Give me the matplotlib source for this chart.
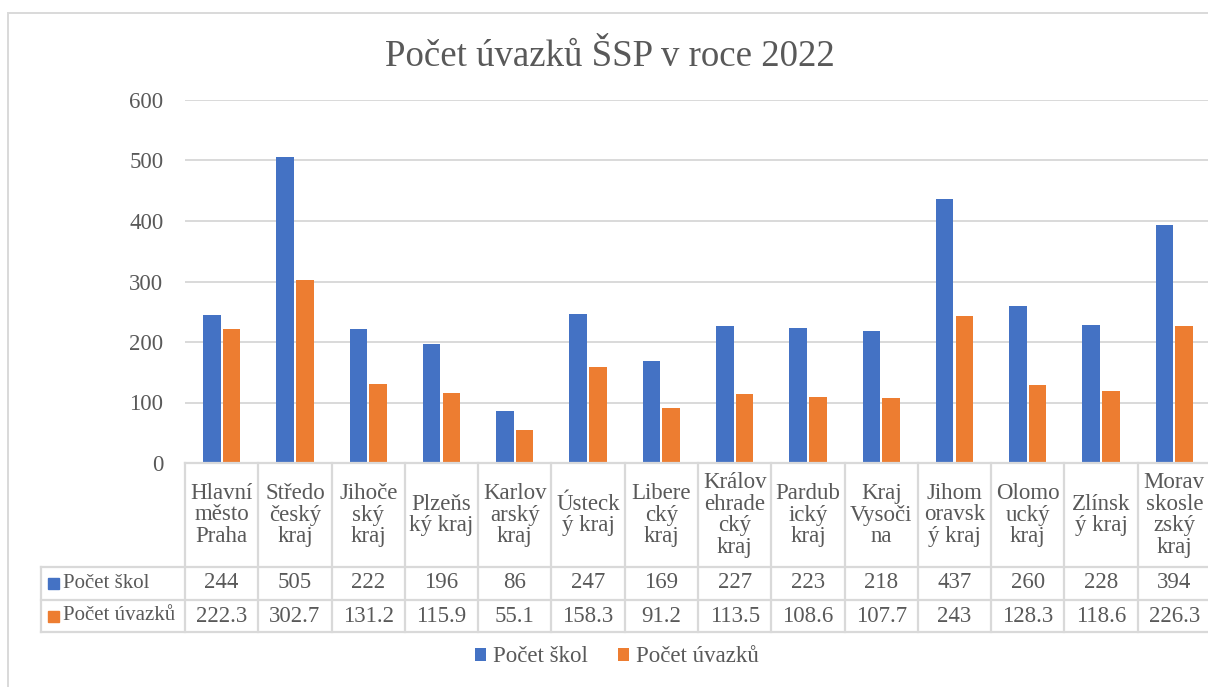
import matplotlib.pyplot as plt
import matplotlib.transforms as mtransforms
from matplotlib.lines import Line2D
from matplotlib.patches import Rectangle
import numpy as np

# Data
kraje = ["Hlavní\nměsto\nPraha", "Středo\nčeský\nkraj", "Jihoče\nský\nkraj", "Plzeňs\nký kraj",
         "Karlov\narský\nkraj", "Ústeck\ný kraj", "Libere\ncký\nkraj", "Králov\nehrade\ncký\nkraj",
         "Pardub\nický\nkraj", "Kraj\nVysoči\nna", "Jihom\noravsk\ný kraj", "Olomo\nucký\nkraj",
         "Zlínsk\ný kraj", "Morav\nskosle\nzský\nkraj"]
pocet_skol = [244, 505, 222, 196, 86, 247, 169, 227, 223, 218, 437, 260, 228, 394]
pocet_uvazku = [222.3, 302.7, 131.2, 115.9, 55.1, 158.3, 91.2, 113.5, 108.6, 107.7, 243, 128.3, 118.6, 226.3]
serie = ["Počet škol", "Počet úvazků"]
titulek = "Počet úvazků ŠSP v roce 2022"

modra = "#4472C4"
oranzova = "#ED7D31"
seda = "#595959"
mrizka = "#d9d9d9"

plt.rcParams["font.family"] = ["Liberation Serif", "DejaVu Serif"]
FS = 16.5

W, H = 1208, 687
fig = plt.figure(figsize=(W / 100, H / 100), dpi=100)


def fx(px):
    return px / W


def fy(py):
    return 1 - py / H


ax = fig.add_axes([fx(185), fy(463), fx(1211) - fx(185), fy(100) - fy(463)])
x = np.arange(len(kraje))
b1 = ax.bar(x - 0.135, pocet_skol, width=0.24, color=modra, label=serie[0], zorder=3)
b2 = ax.bar(x + 0.135, pocet_uvazku, width=0.24, color=oranzova, label=serie[1], zorder=3)

ax.set_xlim(-0.5, len(kraje) - 0.5)
ax.set_ylim(0, 600)
ax.set_yticks(np.arange(0, 601, 100))
ax.set_xticks([])
ax.yaxis.grid(True, color=mrizka, lw=1.4, zorder=0)
ax.set_axisbelow(True)
for s in ax.spines.values():
    s.set_visible(False)
ax.tick_params(axis="y", length=0, pad=15.5, labelsize=FS, labelcolor=seda)

# Tabulka s daty
bt = mtransforms.blended_transform_factory(ax.transData, fig.transFigure)
kw = dict(color=mrizka, lw=1.6, clip_on=False)
for k in range(len(kraje) + 1):
    fig.add_artist(Line2D([k - 0.5, k - 0.5], [fy(463), fy(632)], transform=bt, **kw))
fig.add_artist(Line2D([fx(41), fx(41)], [fy(567), fy(632)], transform=fig.transFigure, **kw))
fig.add_artist(Line2D([-0.5, len(kraje) - 0.5], [fy(463), fy(463)], transform=bt, **kw))
for py in [567, 600, 632]:
    fig.add_artist(Line2D([fx(41), fx(1211)], [fy(py), fy(py)], transform=fig.transFigure, **kw))

for i, lab in enumerate(kraje):
    fig.text(i, fy(515), lab, transform=bt, ha="center", va="center", multialignment="center",
             fontsize=FS, color=seda, linespacing=1.05)
    fig.text(i, fy(583), f"{pocet_skol[i]:g}", transform=bt, ha="center", va="center",
             fontsize=FS, color=seda)
    fig.text(i, fy(616), f"{pocet_uvazku[i]:g}", transform=bt, ha="center", va="center",
             fontsize=FS, color=seda)

for py, barva, nazev in [(583, modra, serie[0]), (616, oranzova, serie[1])]:
    fig.add_artist(Rectangle((fx(48), fy(py + 5.5)), 11 / W, 11 / H, color=barva,
                             transform=fig.transFigure))
    fig.text(fx(63), fy(py), nazev, ha="left", va="center", fontsize=15, color=seda)

# Legenda
fig.legend(handles=[b1, b2], loc="center", bbox_to_anchor=(fx(617), fy(657)), ncol=2,
           frameon=False, fontsize=FS, labelcolor=seda, handlelength=0.5, handleheight=0.5,
           handletextpad=0.3, columnspacing=1.3)

fig.text(fx(610), fy(57), titulek, ha="center", va="center", fontsize=26.6, color=seda)

# Ramecek grafu
fig.add_artist(Rectangle((fx(8), fy(720)), fx(1240) - fx(8), fy(13) - fy(720), fill=False,
                         edgecolor=mrizka, lw=1.4, transform=fig.transFigure))

fig.savefig("out.png", dpi=100)
